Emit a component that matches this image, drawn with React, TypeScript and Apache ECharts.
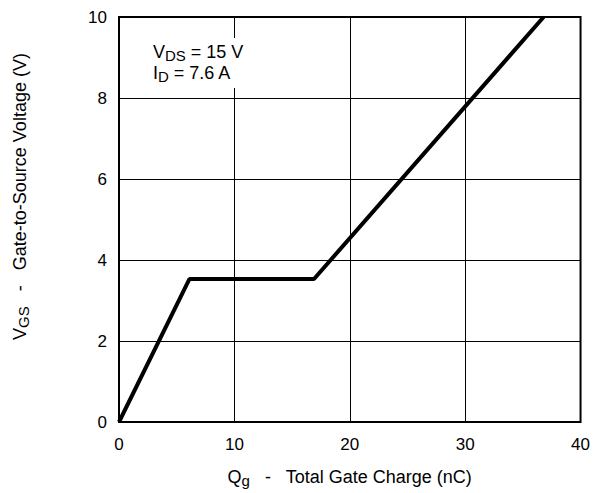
import React, { useEffect, useRef } from "react";
import * as echarts from "echarts";

const gateCharge = [0, 6.1, 16.9, 36.8];
const gateVoltage = [0, 3.53, 3.53, 10];
const xTicks = [0, 10, 20, 30, 40];
const yTicks = [0, 2, 4, 6, 8, 10];

const FONT = "'Liberation Sans', Arial, Helvetica, sans-serif";

export default function App() {
  const ref = useRef<HTMLDivElement>(null);
  useEffect(() => {
    if (!ref.current) return;
    const chart = echarts.init(ref.current, null, { renderer: "svg" });
    const data = gateCharge.map((x, i) => [x, gateVoltage[i]]);
    chart.setOption({
      animation: false,
      backgroundColor: "#fff",
      textStyle: { fontFamily: FONT },
      grid: {
        left: 119,
        right: 9,
        top: 17,
        bottom: 71,
        show: true,
        borderColor: "#000",
        borderWidth: 2,
        backgroundColor: "transparent",
        z: 3,
      },
      xAxis: {
        type: "value",
        min: xTicks[0],
        max: xTicks[xTicks.length - 1],
        interval: 10,
        axisLine: { show: false },
        axisTick: { show: false },
        splitLine: { show: true, lineStyle: { color: "#000", width: 1 } },
        axisLabel: { color: "#000", fontSize: 17, margin: 14, fontFamily: FONT },
        name: "{m|Q}{s|g}{m|   -   Total Gate Charge (nC)}",
        nameLocation: "middle",
        nameGap: 44,
        nameTextStyle: {
          rich: {
            m: { fontSize: 18, color: "#000", lineHeight: 22, fontFamily: FONT },
            s: { fontSize: 15, color: "#000", lineHeight: 15, verticalAlign: "bottom", fontFamily: FONT },
          },
        },
      },
      yAxis: {
        type: "value",
        min: yTicks[0],
        max: yTicks[yTicks.length - 1],
        interval: 2,
        axisLine: { show: false },
        axisTick: { show: false },
        splitLine: { show: true, lineStyle: { color: "#000", width: 1 } },
        axisLabel: { color: "#000", fontSize: 17, margin: 12, fontFamily: FONT },
        name: "{m|V}{s|GS}{m|   -   Gate-to-Source Voltage (V)}",
        nameLocation: "middle",
        nameGap: 88,
        nameTextStyle: {
          padding: [0, 0, 0, 46],
          rich: {
            m: { fontSize: 18, color: "#000", lineHeight: 22, fontFamily: FONT },
            s: { fontSize: 15, color: "#000", lineHeight: 15, verticalAlign: "bottom", fontFamily: FONT },
          },
        },
      },
      graphic: [
        {
          type: "rect",
          left: 148,
          top: 38,
          shape: { width: 102, height: 50 },
          style: { fill: "#fff" },
          z: 10,
        },
        {
          type: "text",
          left: 153,
          top: 43,
          z: 11,
          style: {
            text: "{m|V}{s|DS}{m| = 15 V}\n{m|I}{s|D}{m| = 7.6 A}",
            fontFamily: FONT,
            rich: {
              m: { fontSize: 18, fill: "#000", lineHeight: 21, fontFamily: FONT },
              s: { fontSize: 15, fill: "#000", lineHeight: 15, verticalAlign: "bottom", fontFamily: FONT },
            },
          },
        },
      ],
      series: [
        {
          type: "line",
          data,
          symbol: "none",
          lineStyle: { color: "#000", width: 4 },
          clip: true,
          z: 5,
        },
      ],
    });
    return () => chart.dispose();
  }, []);
  return (
    <div
      ref={ref}
      style={{ position: "absolute", left: 0, top: 0, width: 593, height: 493 }}
    />
  );
}
